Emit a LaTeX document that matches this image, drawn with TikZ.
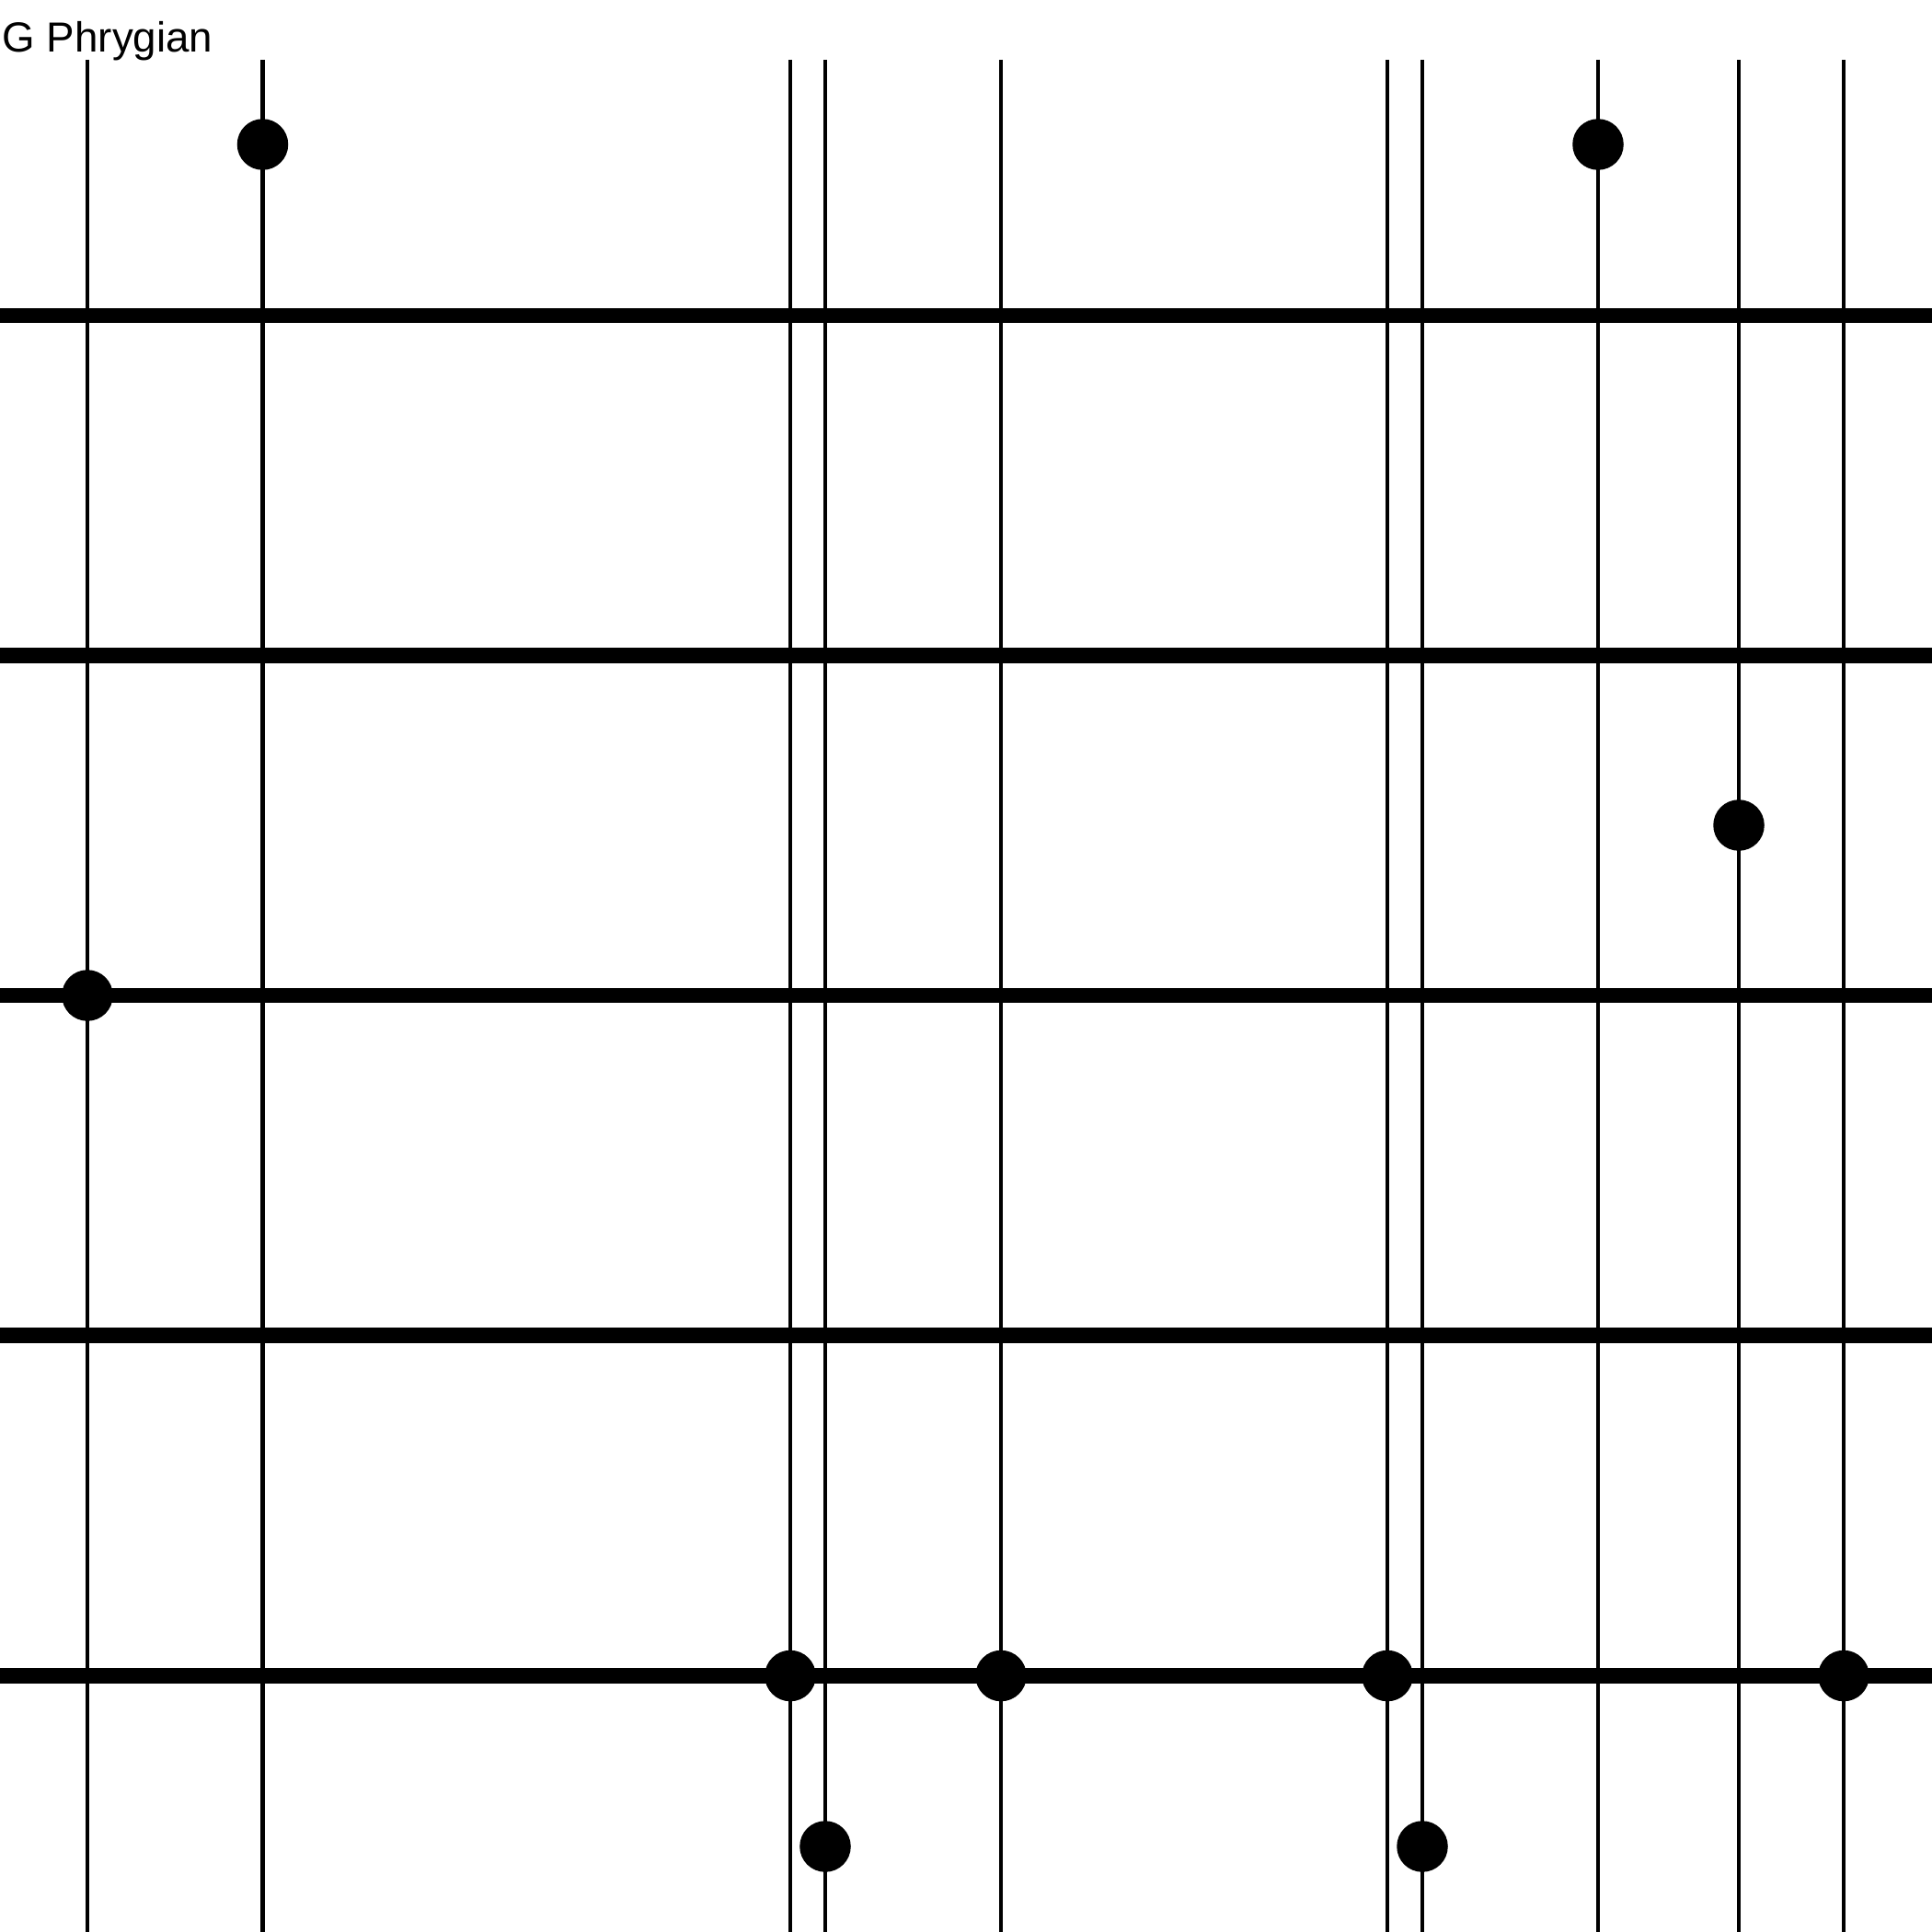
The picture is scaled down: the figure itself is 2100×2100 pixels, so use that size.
\documentclass[tikz,border=0pt]{standalone}
\usepackage{fontspec}
\setmainfont{Liberation Sans}
\begin{document}
\begin{tikzpicture}[
  x=0.01cm, y=-0.01cm,
  staffline/.style={line width=4.8pt, black},
  barline/.style={line width=1.15pt, black},
  note/.style={circle, fill=black, inner sep=0pt, minimum size=0.555cm},
  title/.style={anchor=base west, inner sep=0pt, font=\fontsize{13}{15}\selectfont},
]
\useasboundingbox (0,0) rectangle (2100,2100);

%% Title
\node[title] (name) at (2,57) {G Phrygian};

%% Vertical lines
\foreach \i/\x in {1/95, 2/285.5, 3/859, 4/897, 5/1088, 6/1508, 7/1546, 8/1737, 9/1890, 10/2004} {
  \coordinate (top\i) at (\x,65);
  \coordinate (bot\i) at (\x,2100);
  \draw[barline] (top\i) -- (bot\i);
}

%% Horizontal lines
\foreach \j/\y in {1/343, 2/712.5, 3/1082, 4/1451.5, 5/1821.5} {
  \coordinate (left\j) at (0,\y);
  \coordinate (right\j) at (2100,\y);
  \draw[staffline] (left\j) -- (right\j);
}

%% Notes
\node[note] (n1)  at (285.5,157) {};
\node[note] (n2)  at (1737,157) {};
\node[note] (n3)  at (1890,897) {};
\node[note] (n4)  at (95,1082) {};
\node[note] (n5)  at (859,1821.5) {};
\node[note] (n6)  at (1088,1821.5) {};
\node[note] (n7)  at (1508,1821.5) {};
\node[note] (n8)  at (2004,1821.5) {};
\node[note] (n9)  at (897,2007) {};
\node[note] (n10) at (1546,2007) {};
\end{tikzpicture}
\end{document}
